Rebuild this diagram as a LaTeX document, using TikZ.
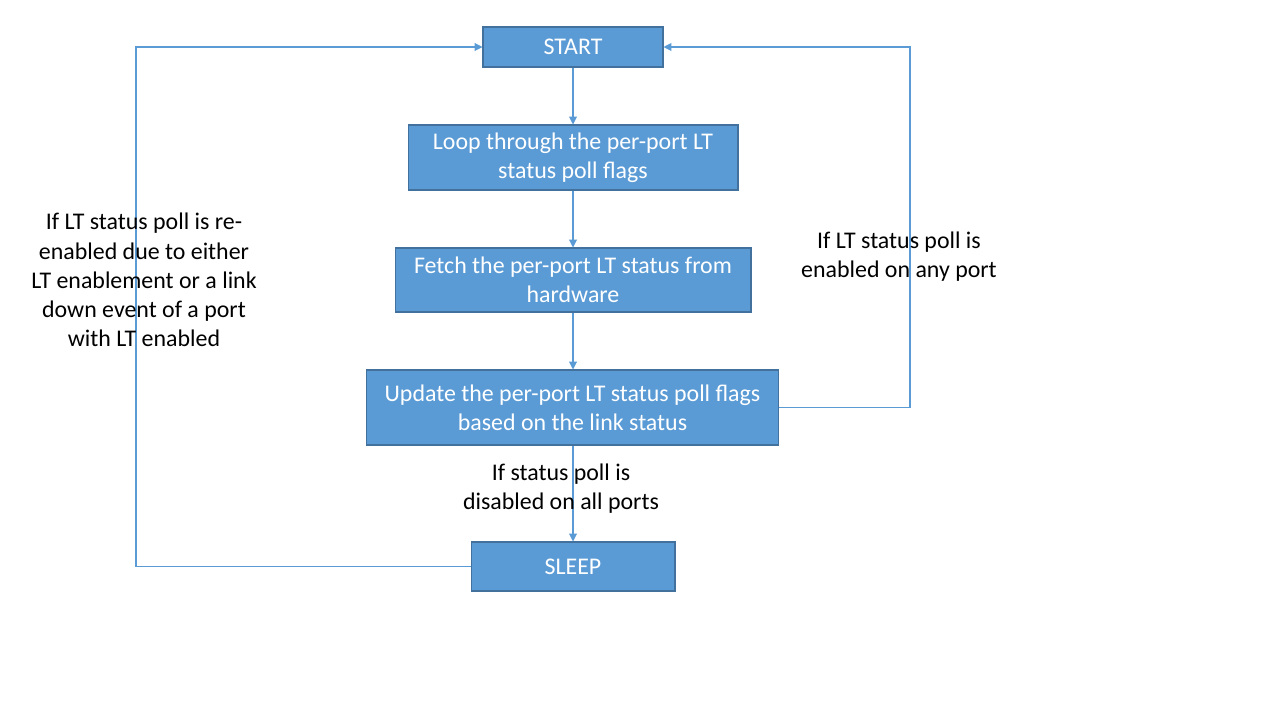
\documentclass[tikz,border=0pt]{standalone}
\usepackage{fontspec}
\setmainfont{Carlito}
\usetikzlibrary{arrows.meta}
\definecolor{boxfill}{HTML}{5B9BD5}
\definecolor{boxline}{HTML}{41719C}
\begin{document}
\begin{tikzpicture}[x=0.02cm, y=-0.02cm,
  every node/.style={font=\fontsize{13.6}{16.6}\selectfont},
  box/.style={draw=boxline, fill=boxfill, line width=0.6pt, text=white, align=center, inner sep=0pt},
  link/.style={draw=boxfill, line width=0.6pt, -{Triangle[length=4.5pt, width=4.5pt]}},
  lbl/.style={align=center, text=black}]
\useasboundingbox (0,0) rectangle (1280,720);
% main column
\node[box, minimum width=3.6cm, minimum height=0.8cm] (start) at (573,47) {START};
\node[box, minimum width=6.6cm, minimum height=1.3cm] (loop) at (573,157.5) {Loop through the per-port LT\\status poll flags};
\node[box, minimum width=7.12cm, minimum height=1.28cm] (fetch) at (573,280) {Fetch the per-port LT status from\\hardware};
\node[box, minimum width=8.26cm, minimum height=1.5cm] (update) at (572.5,407.5) {Update the per-port LT status poll flags\\based on the link status};
\node[box, minimum width=4.08cm, minimum height=0.98cm] (sleep) at (573,566.5) {SLEEP};
\draw[link] (start) -- (loop);
\draw[link] (loop) -- (fetch);
\draw[link] (fetch.south) -- (fetch.south |- update.north);
\draw[link] (update.south -| sleep.north) -- (sleep.north);
% return loops
\coordinate (lcorner) at (136,47);
\coordinate (rcorner) at (910,47);
\draw[link] (sleep.west) -| (lcorner) -- (start.west);
\draw[link] (update.east) -| (rcorner) -- (start.east);
% labels
\node[lbl] (lblleft) at (144,280) {If LT status poll is re-\\enabled due to either\\LT enablement or a link\\down event of a port\\with LT enabled};
\node[lbl] (lblright) at (899,256.5) {If LT status poll is\\enabled on any port};
\node[lbl] (lbldown) at (561,488.5) {If status poll is\\disabled on all ports};
\end{tikzpicture}
\end{document}
